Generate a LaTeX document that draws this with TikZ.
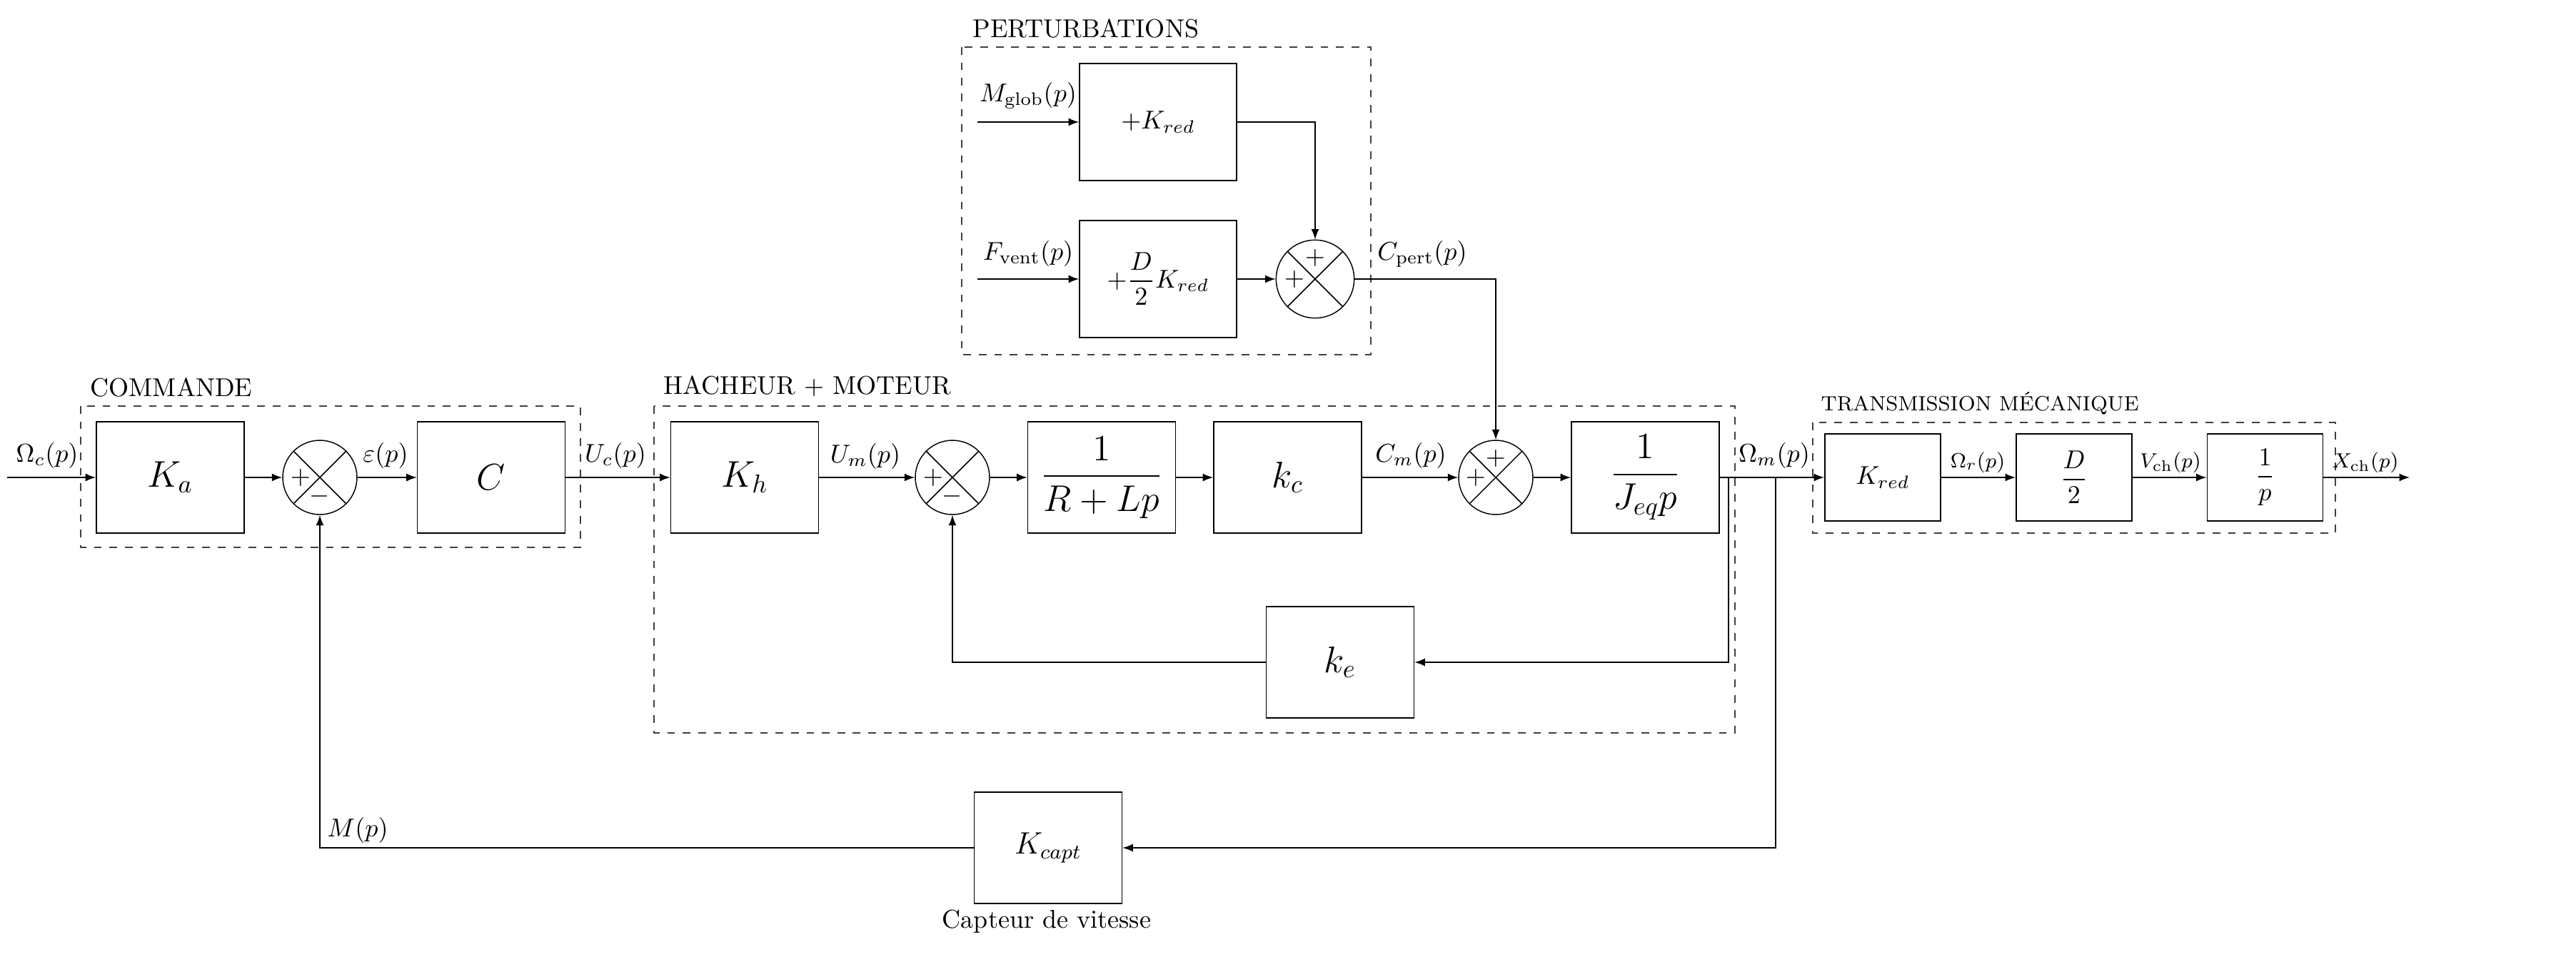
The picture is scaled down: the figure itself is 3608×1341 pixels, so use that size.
\documentclass[tikz,border=0pt]{standalone}
\usepackage{amsmath}
\usepackage{fontspec}
\usetikzlibrary{calc}
\def\somme[#1](#2)(#3){\node[somme,#1] (#2) at (#3) {}; \draw (#2.45) -- (#2.225); \draw (#2.135) -- (#2.315);}

\begin{document}
\begin{tikzpicture}[x=0.277pt, y=-0.277pt, >=latex,
	bloc/.style={draw, line width=0.5pt, inner sep=0pt, minimum width=57.3pt, minimum height=43.2pt, font=\fontsize{14}{16}\selectfont},
	pbloc/.style={bloc, minimum width=60.9pt, minimum height=45.4pt, font=\fontsize{10}{12}\selectfont},
	tbloc/.style={bloc, minimum width=44.9pt, minimum height=33.8pt, font=\fontsize{10}{12}\selectfont},
	somme/.style={draw, circle, inner sep=0pt, minimum size=28.8pt},
	groupe/.style={draw=black!75, dashed, line width=0.5pt},
	titre/.style={anchor=base west, inner sep=0pt},
	lbl/.style={anchor=base, inner sep=0pt},
	signe/.style={inner sep=0pt}]
			%%%%% START %%%%%
			\useasboundingbox (0,0) rectangle (3608,1341);
			
			% cadres
			\draw[groupe] (113,569) rectangle (813,767);
			\node[titre] at (126,555) {COMMANDE};
			\draw[groupe] (916,569) rectangle (2430,1027);
			\node[titre] at (929,552) {HACHEUR + MOTEUR};
			\draw[groupe] (1347,66) rectangle (1920,497);
			\node[titre] at (1362,52) {PERTURBATIONS};
			\draw[groupe] (2539,592) rectangle (3271,747);
			\node[titre, font=\footnotesize] at (2550,575) {TRANSMISSION MÉCANIQUE};
			
			% blocs
			\node[bloc] (Ka) at (238.5,669) {$K_a$};
			\somme[](S1)(448,669)
			\node[bloc] (C) at (688,669) {$C$};
			\node[bloc] (Kh) at (1043,669) {$K_h$};
			\somme[](S2)(1334,669)
			\node[bloc] (RL) at (1543,669) {$\dfrac{1}{R+Lp}$};
			\node[bloc] (kc) at (1803.5,669) {$k_c$};
			\somme[](S3)(2095,669)
			\node[bloc] (Jeq) at (2304.5,669) {$\dfrac{1}{J_{eq}p}$};
			\node[bloc] (ke) at (1877,928) {$k_e$};
			\node[bloc, font=\fontsize{12}{14}\selectfont] (Kcapt) at (1468,1188) {$K_{capt}$};
			\node[lbl] at (1466,1300) {Capteur de vitesse};
			
			\node[pbloc] (Kp) at (1622,171) {$+K_{red}$};
			\node[pbloc] (Dp) at (1622,391) {$+\dfrac{D}{2}K_{red}$};
			\somme[minimum size=30.3pt](SP)(1842,391)
			
			\node[tbloc] (Kr) at (2637,669) {$K_{red}$};
			\node[tbloc] (D2) at (2905,669) {$\dfrac{D}{2}$};
			\node[tbloc] (Ip) at (3172.5,669) {$\dfrac{1}{p}$};
			
			% signes
			\node[signe] at ($(S1)+(-27,0)$) {$+$};
			\node[signe] at ($(S1)+(0,26)$) {$-$};
			\node[signe] at ($(S2)+(-27,0)$) {$+$};
			\node[signe] at ($(S2)+(0,26)$) {$-$};
			\node[signe] at ($(S3)+(0,-27)$) {$+$};
			\node[signe] at ($(S3)+(-28,0)$) {$+$};
			\node[signe] at ($(SP)+(0,-30)$) {$+$};
			\node[signe] at ($(SP)+(-29,0)$) {$+$};
			
			% liaisons
			\coordinate (e) at (10,669);
			\coordinate (s) at (3375,669);
			\coordinate (ef) at (2421,669);
			\coordinate (ec) at (2487,669);
			\coordinate (em) at (1369,171);
			\coordinate (ev) at (1369,391);
			
			\draw[->] (e) -- (Ka);
			\draw[->] (Ka) -- (S1);
			\draw[->] (S1) -- (C);
			\draw[->] (C) -- (Kh);
			\draw[->] (Kh) -- (S2);
			\draw[->] (S2) -- (RL);
			\draw[->] (RL) -- (kc);
			\draw[->] (kc) -- (S3);
			\draw[->] (S3) -- (Jeq);
			\draw[->] (Jeq) -- (Kr);
			\draw[->] (Kr) -- (D2);
			\draw[->] (D2) -- (Ip);
			\draw[->] (Ip) -- (s);
			\draw[->] (ef) |- (ke);
			\draw[->] (ke) -| (S2);
			\draw[->] (ec) |- (Kcapt);
			\draw[->] (Kcapt) -| (S1);
			\draw[->] (em) -- (Kp);
			\draw[->] (ev) -- (Dp);
			\draw[->] (Kp) -| (SP);
			\draw[->] (Dp) -- (SP);
			\draw[->] (SP) -| (S3);
			
			% etiquettes
			\node[lbl] at (66,647) {$\Omega_c(p)$};
			\node[lbl] at (540,647) {$\varepsilon(p)$};
			\node[lbl] at (862,647) {$U_c(p)$};
			\node[lbl] at (1212,648) {$U_m(p)$};
			\node[lbl] at (1976,647) {$C_m(p)$};
			\node[lbl] at (2485,647) {$\Omega_m(p)$};
			\node[lbl] at (1992,364) {$C_{\mathrm{pert}}(p)$};
			\node[lbl] at (1440,142) {$M_{\mathrm{glob}}(p)$};
			\node[lbl] at (1440,364) {$F_{\mathrm{vent}}(p)$};
			\node[lbl] at (501,1172) {$M(p)$};
			\node[lbl, font=\footnotesize] at (2770,655) {$\Omega_r(p)$};
			\node[lbl, font=\footnotesize] at (3040,655) {$V_{\mathrm{ch}}(p)$};
			\node[lbl, font=\footnotesize] at (3313,655) {$X_{\mathrm{ch}}(p)$};
			
			%%%%% END %%%%%
\end{tikzpicture}
\end{document}
